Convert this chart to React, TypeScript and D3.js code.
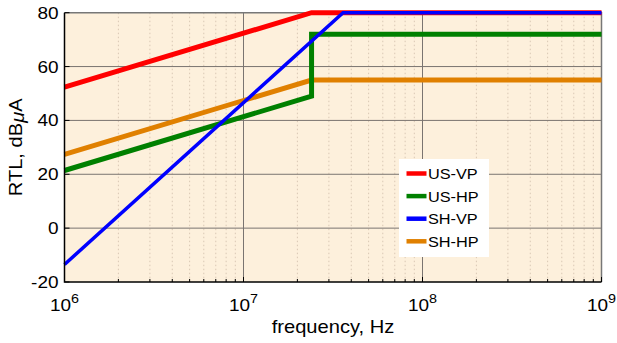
import React, { useEffect, useRef } from "react";
import * as d3 from "d3";

// series (frequency in Hz, RTL in dBuA)
const usVpFreq = [1e6, 2.4e7, 1e9];
const usVpVal = [52.4, 80, 80];
const usHpFreq = [1e6, 2.4e7, 2.4e7, 1e9];
const usHpVal = [21.4, 49, 72, 72];
const shVpFreq = [1e6, 3.6e7, 1e9];
const shVpVal = [-13.5, 80, 80];
const shHpFreq = [1e6, 2.4e7, 1e9];
const shHpVal = [27.4, 55, 55];

const seriesNames = ["US-VP", "US-HP", "SH-VP", "SH-HP"];
const seriesColors = ["#ff0000", "#008000", "#0000ff", "#e08000"];
const seriesWidths = [5, 5, 3.5, 5];

const yTicks = [-20, 0, 20, 40, 60, 80];
const xDecades = [6, 7, 8, 9];

const W = 617,
  H = 343;
const margin = { left: 64.5, top: 12.7, right: 15.5, bottom: 61 };
const font = "'Liberation Sans', Arial, sans-serif";

const App = () => {
  const svgRef = useRef<SVGSVGElement>(null);

  useEffect(() => {
    document.body.style.margin = "0";
    draw();
    // eslint-disable-next-line
  }, []);

  const draw = () => {
    const svg = d3.select(svgRef.current);
    svg.selectAll("*").remove();

    const iw = W - margin.left - margin.right,
      ih = H - margin.top - margin.bottom;

    const xScale = d3.scaleLog().domain([1e6, 1e9]).range([0, iw]);
    const yScale = d3.scaleLinear().domain([-20, 80]).range([ih, 0]);

    const chart = svg
      .append("g")
      .attr("transform", `translate(${margin.left},${margin.top})`);

    // plot background
    chart
      .append("rect")
      .attr("width", iw)
      .attr("height", ih)
      .attr("fill", "#fdf0dc");

    // minor vertical grid (dotted)
    const minor: number[] = [];
    for (let d = 6; d < 9; d++) {
      for (let m = 2; m <= 9; m++) minor.push(m * Math.pow(10, d));
    }
    chart
      .selectAll(".minor")
      .data(minor)
      .enter()
      .append("line")
      .attr("x1", (d) => xScale(d))
      .attr("x2", (d) => xScale(d))
      .attr("y1", 0)
      .attr("y2", ih)
      .attr("stroke", "#d9c7b4")
      .attr("stroke-width", 1)
      .attr("stroke-dasharray", "1.5,2.5");

    // major grid
    chart
      .selectAll(".vmajor")
      .data(xDecades.slice(1, -1))
      .enter()
      .append("line")
      .attr("x1", (d) => xScale(Math.pow(10, d)))
      .attr("x2", (d) => xScale(Math.pow(10, d)))
      .attr("y1", 0)
      .attr("y2", ih)
      .attr("stroke", "#7a7470")
      .attr("stroke-width", 1);
    chart
      .selectAll(".hmajor")
      .data(yTicks.slice(1, -1))
      .enter()
      .append("line")
      .attr("x1", 0)
      .attr("x2", iw)
      .attr("y1", (d) => yScale(d))
      .attr("y2", (d) => yScale(d))
      .attr("stroke", "#7a7470")
      .attr("stroke-width", 1);

    // top / right frame (gray)
    chart
      .append("path")
      .attr("d", `M0,0H${iw}V${ih}`)
      .attr("fill", "none")
      .attr("stroke", "#777")
      .attr("stroke-width", 1.5);

    // series
    const series = [
      [usVpFreq, usVpVal],
      [usHpFreq, usHpVal],
      [shVpFreq, shVpVal],
      [shHpFreq, shHpVal],
    ];
    const line = d3
      .line<[number, number]>()
      .x((d) => xScale(d[0]))
      .y((d) => yScale(d[1]));
    const order = [3, 1, 0, 2];
    order.forEach((i) => {
      const [fx, vy] = series[i];
      const pts = fx.map((f, k) => [f, vy[k]] as [number, number]);
      chart
        .append("path")
        .attr("d", line(pts))
        .attr("fill", "none")
        .attr("stroke", seriesColors[i])
        .attr("stroke-width", seriesWidths[i])
        .attr("stroke-linejoin", "miter");
    });

    // left and bottom axes
    chart
      .append("path")
      .attr("d", `M0,0V${ih}H${iw}`)
      .attr("fill", "none")
      .attr("stroke", "#000")
      .attr("stroke-width", 1.5);

    chart
      .selectAll(".xmt")
      .data(minor)
      .enter()
      .append("line")
      .attr("x1", (d) => xScale(d))
      .attr("x2", (d) => xScale(d))
      .attr("y1", ih)
      .attr("y2", ih - 3)
      .attr("stroke", "#000")
      .attr("stroke-width", 1);
    chart
      .selectAll(".xMt")
      .data(xDecades)
      .enter()
      .append("line")
      .attr("x1", (d) => xScale(Math.pow(10, d)))
      .attr("x2", (d) => xScale(Math.pow(10, d)))
      .attr("y1", ih)
      .attr("y2", ih - 5)
      .attr("stroke", "#000")
      .attr("stroke-width", 1);
    chart
      .selectAll(".yMt")
      .data(yTicks)
      .enter()
      .append("line")
      .attr("x1", 0)
      .attr("x2", 5)
      .attr("y1", (d) => yScale(d))
      .attr("y2", (d) => yScale(d))
      .attr("stroke", "#000")
      .attr("stroke-width", 1);

    // y tick labels (the original font is a bit wider than Liberation Sans)
    chart
      .selectAll(".ylab")
      .data(yTicks)
      .enter()
      .append("text")
      .attr("transform", (d) => `translate(-6,${yScale(d)}) scale(1.15,1)`)
      .attr("dy", "0.36em")
      .attr("text-anchor", "end")
      .attr("font-family", font)
      .attr("font-size", 16.5)
      .attr("fill", "#000")
      .text((d) => d);

    // x tick labels 10^n
    const xl = chart
      .selectAll(".xlab")
      .data(xDecades)
      .enter()
      .append("text")
      .attr(
        "transform",
        (d) => `translate(${xScale(Math.pow(10, d))},${ih + 28.5}) scale(1.15,1)`
      )
      .attr("text-anchor", "middle")
      .attr("font-family", font)
      .attr("font-size", 16.5)
      .attr("fill", "#000");
    xl.append("tspan").text("10");
    xl.append("tspan")
      .attr("dy", -8)
      .attr("font-size", 12.5)
      .text((d) => d);

    // axis titles
    chart
      .append("text")
      .attr("transform", `translate(${iw / 2},${ih + 51}) scale(1.15,1)`)
      .attr("text-anchor", "middle")
      .attr("font-family", font)
      .attr("font-size", 17.5)
      .attr("fill", "#000")
      .text("frequency, Hz");

    const yt = chart
      .append("text")
      .attr(
        "transform",
        `translate(${-margin.left + 22},${ih / 2}) rotate(-90) scale(1.15,1)`
      )
      .attr("text-anchor", "middle")
      .attr("font-family", font)
      .attr("font-size", 17.5)
      .attr("fill", "#000");
    yt.append("tspan").text("RTL, dB");
    yt.append("tspan").attr("font-style", "italic").attr("dy", 2).text("\u03bc");
    yt.append("tspan").attr("dy", -2).text("A");

    // legend
    const lg = svg.append("g").attr("transform", "translate(399,159)");
    lg.append("rect")
      .attr("width", 90)
      .attr("height", 98)
      .attr("fill", "#fff");
    seriesNames.forEach((name, i) => {
      const yy = 14.5 + i * 22.6;
      lg.append("line")
        .attr("x1", 7.5)
        .attr("x2", 27.5)
        .attr("y1", yy)
        .attr("y2", yy)
        .attr("stroke", seriesColors[i])
        .attr("stroke-width", 4.5);
      lg.append("text")
        .attr("transform", `translate(29,${yy}) scale(1.05,1)`)
        .attr("dy", "0.36em")
        .attr("font-family", font)
        .attr("font-size", 15.5)
        .attr("fill", "#000")
        .text(name);
    });
  };

  return (
    <div>
      <svg ref={svgRef} width={W} height={H}></svg>
    </div>
  );
};

export default App;
